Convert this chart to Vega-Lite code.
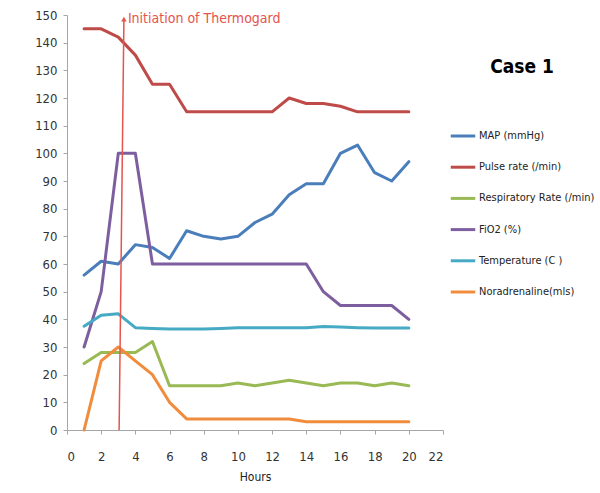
{
  "$schema": "https://vega.github.io/schema/vega-lite/v6.json",
  "width": 376,
  "height": 415,
  "autosize": "none",
  "padding": {"left": 67, "top": 15, "right": 157, "bottom": 63},
  "background": "white",
  "config": {
    "view": {"stroke": null},
    "font": "DejaVu Sans Condensed, Roboto Condensed, Arial Narrow, sans-serif"
  },
  "datasets": {
    "vitals": [
      {"hour":1,"series":"MAP (mmHg)","value":56},{"hour":2,"series":"MAP (mmHg)","value":61},{"hour":3,"series":"MAP (mmHg)","value":60},{"hour":4,"series":"MAP (mmHg)","value":67},{"hour":5,"series":"MAP (mmHg)","value":66},{"hour":6,"series":"MAP (mmHg)","value":62},{"hour":7,"series":"MAP (mmHg)","value":72},{"hour":8,"series":"MAP (mmHg)","value":70},{"hour":9,"series":"MAP (mmHg)","value":69},{"hour":10,"series":"MAP (mmHg)","value":70},{"hour":11,"series":"MAP (mmHg)","value":75},{"hour":12,"series":"MAP (mmHg)","value":78},{"hour":13,"series":"MAP (mmHg)","value":85},{"hour":14,"series":"MAP (mmHg)","value":89},{"hour":15,"series":"MAP (mmHg)","value":89},{"hour":16,"series":"MAP (mmHg)","value":100},{"hour":17,"series":"MAP (mmHg)","value":103},{"hour":18,"series":"MAP (mmHg)","value":93},{"hour":19,"series":"MAP (mmHg)","value":90},{"hour":20,"series":"MAP (mmHg)","value":97},
      {"hour":1,"series":"Pulse rate (/min)","value":145},{"hour":2,"series":"Pulse rate (/min)","value":145},{"hour":3,"series":"Pulse rate (/min)","value":142},{"hour":4,"series":"Pulse rate (/min)","value":135.5},{"hour":5,"series":"Pulse rate (/min)","value":125},{"hour":6,"series":"Pulse rate (/min)","value":125},{"hour":7,"series":"Pulse rate (/min)","value":115},{"hour":8,"series":"Pulse rate (/min)","value":115},{"hour":9,"series":"Pulse rate (/min)","value":115},{"hour":10,"series":"Pulse rate (/min)","value":115},{"hour":11,"series":"Pulse rate (/min)","value":115},{"hour":12,"series":"Pulse rate (/min)","value":115},{"hour":13,"series":"Pulse rate (/min)","value":120},{"hour":14,"series":"Pulse rate (/min)","value":118},{"hour":15,"series":"Pulse rate (/min)","value":118},{"hour":16,"series":"Pulse rate (/min)","value":117},{"hour":17,"series":"Pulse rate (/min)","value":115},{"hour":18,"series":"Pulse rate (/min)","value":115},{"hour":19,"series":"Pulse rate (/min)","value":115},{"hour":20,"series":"Pulse rate (/min)","value":115},
      {"hour":1,"series":"Respiratory Rate (/min)","value":24},{"hour":2,"series":"Respiratory Rate (/min)","value":28},{"hour":3,"series":"Respiratory Rate (/min)","value":28},{"hour":4,"series":"Respiratory Rate (/min)","value":28},{"hour":5,"series":"Respiratory Rate (/min)","value":32},{"hour":6,"series":"Respiratory Rate (/min)","value":16},{"hour":7,"series":"Respiratory Rate (/min)","value":16},{"hour":8,"series":"Respiratory Rate (/min)","value":16},{"hour":9,"series":"Respiratory Rate (/min)","value":16},{"hour":10,"series":"Respiratory Rate (/min)","value":17},{"hour":11,"series":"Respiratory Rate (/min)","value":16},{"hour":12,"series":"Respiratory Rate (/min)","value":17},{"hour":13,"series":"Respiratory Rate (/min)","value":18},{"hour":14,"series":"Respiratory Rate (/min)","value":17},{"hour":15,"series":"Respiratory Rate (/min)","value":16},{"hour":16,"series":"Respiratory Rate (/min)","value":17},{"hour":17,"series":"Respiratory Rate (/min)","value":17},{"hour":18,"series":"Respiratory Rate (/min)","value":16},{"hour":19,"series":"Respiratory Rate (/min)","value":17},{"hour":20,"series":"Respiratory Rate (/min)","value":16},
      {"hour":1,"series":"FiO2 (%)","value":30},{"hour":2,"series":"FiO2 (%)","value":50},{"hour":3,"series":"FiO2 (%)","value":100},{"hour":4,"series":"FiO2 (%)","value":100},{"hour":5,"series":"FiO2 (%)","value":60},{"hour":6,"series":"FiO2 (%)","value":60},{"hour":7,"series":"FiO2 (%)","value":60},{"hour":8,"series":"FiO2 (%)","value":60},{"hour":9,"series":"FiO2 (%)","value":60},{"hour":10,"series":"FiO2 (%)","value":60},{"hour":11,"series":"FiO2 (%)","value":60},{"hour":12,"series":"FiO2 (%)","value":60},{"hour":13,"series":"FiO2 (%)","value":60},{"hour":14,"series":"FiO2 (%)","value":60},{"hour":15,"series":"FiO2 (%)","value":50},{"hour":16,"series":"FiO2 (%)","value":45},{"hour":17,"series":"FiO2 (%)","value":45},{"hour":18,"series":"FiO2 (%)","value":45},{"hour":19,"series":"FiO2 (%)","value":45},{"hour":20,"series":"FiO2 (%)","value":40},
      {"hour":1,"series":"Temperature (C )","value":37.5},{"hour":2,"series":"Temperature (C )","value":41.5},{"hour":3,"series":"Temperature (C )","value":42},{"hour":4,"series":"Temperature (C )","value":37},{"hour":5,"series":"Temperature (C )","value":36.7},{"hour":6,"series":"Temperature (C )","value":36.5},{"hour":7,"series":"Temperature (C )","value":36.5},{"hour":8,"series":"Temperature (C )","value":36.5},{"hour":9,"series":"Temperature (C )","value":36.7},{"hour":10,"series":"Temperature (C )","value":37},{"hour":11,"series":"Temperature (C )","value":37},{"hour":12,"series":"Temperature (C )","value":37},{"hour":13,"series":"Temperature (C )","value":37},{"hour":14,"series":"Temperature (C )","value":37},{"hour":15,"series":"Temperature (C )","value":37.4},{"hour":16,"series":"Temperature (C )","value":37.2},{"hour":17,"series":"Temperature (C )","value":37},{"hour":18,"series":"Temperature (C )","value":36.9},{"hour":19,"series":"Temperature (C )","value":36.9},{"hour":20,"series":"Temperature (C )","value":36.9},
      {"hour":1,"series":"Noradrenaline(mls)","value":0},{"hour":2,"series":"Noradrenaline(mls)","value":25},{"hour":3,"series":"Noradrenaline(mls)","value":30},{"hour":4,"series":"Noradrenaline(mls)","value":25},{"hour":5,"series":"Noradrenaline(mls)","value":20},{"hour":6,"series":"Noradrenaline(mls)","value":10},{"hour":7,"series":"Noradrenaline(mls)","value":4},{"hour":8,"series":"Noradrenaline(mls)","value":4},{"hour":9,"series":"Noradrenaline(mls)","value":4},{"hour":10,"series":"Noradrenaline(mls)","value":4},{"hour":11,"series":"Noradrenaline(mls)","value":4},{"hour":12,"series":"Noradrenaline(mls)","value":4},{"hour":13,"series":"Noradrenaline(mls)","value":4},{"hour":14,"series":"Noradrenaline(mls)","value":3},{"hour":15,"series":"Noradrenaline(mls)","value":3},{"hour":16,"series":"Noradrenaline(mls)","value":3},{"hour":17,"series":"Noradrenaline(mls)","value":3},{"hour":18,"series":"Noradrenaline(mls)","value":3},{"hour":19,"series":"Noradrenaline(mls)","value":3},{"hour":20,"series":"Noradrenaline(mls)","value":3}
    ],
    "marker": [
      {"x": 3.05, "y": 0, "x2": 3.33, "y2": 148.5, "label": "Initiation of Thermogard"}
    ]
  },
  "layer": [
    {
      "data": {"name": "vitals"},
      "mark": {"type": "line", "strokeWidth": 3, "strokeJoin": "round", "strokeCap": "round"},
      "encoding": {
        "x": {
          "field": "hour", "type": "quantitative",
          "scale": {"domain": [0, 22], "nice": false, "zero": true},
          "axis": {
            "values": [0,2,4,6,8,10,12,14,16,18,20,22], "tickCount": 30, "labelOverlap": false,
            "title": "Hours", "titleFontSize": 12, "titleFontWeight": "normal", "titleColor": "#222",
            "titlePadding": 8,
            "labelFontSize": 13, "labelColor": "#333", "labelPadding": 16,
            "grid": false, "domainColor": "#a6a6a6", "tickColor": "#a6a6a6", "tickSize": 4
          }
        },
        "y": {
          "field": "value", "type": "quantitative",
          "scale": {"domain": [0, 150], "nice": false},
          "axis": {
            "values": [0,10,20,30,40,50,60,70,80,90,100,110,120,130,140,150], "tickCount": 30, "labelOverlap": false,
            "title": null, "labelFontSize": 13, "labelColor": "#333", "labelPadding": 6,
            "grid": false, "domainColor": "#a6a6a6", "tickColor": "#a6a6a6", "tickSize": 4
          }
        },
        "color": {
          "field": "series", "type": "nominal",
          "scale": {
            "domain": ["MAP (mmHg)","Pulse rate (/min)","Respiratory Rate (/min)","FiO2 (%)","Temperature (C )","Noradrenaline(mls)"],
            "range": ["#4A7EBB","#BE4B48","#98B954","#7D5FA0","#46AAC5","#F08C3C"]
          },
          "legend": {
            "orient": "none", "legendX": 382, "legendY": 43,
            "title": "Case 1", "titleFontSize": 19, "titleFontWeight": "bold", "titleColor": "#000",
            "titleAnchor": "middle", "titleAlign": "center", "titlePadding": 45,
            "symbolType": "stroke", "symbolStrokeWidth": 3, "symbolSize": 600,
            "labelFontSize": 11, "labelColor": "#222", "labelOffset": 2, "labelLimit": 200,
            "rowPadding": 11.2, "symbolOffset": 0
          }
        },
        "detail": {"field": "series"}
      }
    },
    {
      "data": {"name": "marker"},
      "mark": {"type": "rule", "color": "#E5544D", "strokeWidth": 1.5},
      "encoding": {
        "x": {"field": "x", "type": "quantitative"},
        "y": {"field": "y", "type": "quantitative"},
        "x2": {"field": "x2"},
        "y2": {"field": "y2"}
      }
    },
    {
      "data": {"name": "marker"},
      "mark": {"type": "point", "shape": "triangle-up", "filled": true, "color": "#E5544D", "size": 30, "opacity": 1},
      "encoding": {
        "x": {"field": "x2", "type": "quantitative"},
        "y": {"field": "y2", "type": "quantitative"}
      }
    },
    {
      "data": {"name": "marker"},
      "mark": {"type": "text", "align": "left", "baseline": "middle", "dx": 4, "dy": 0, "fontSize": 14, "color": "#E5544D"},
      "encoding": {
        "x": {"field": "x2", "type": "quantitative"},
        "y": {"field": "y2", "type": "quantitative"},
        "text": {"field": "label"}
      }
    }
  ]
}
